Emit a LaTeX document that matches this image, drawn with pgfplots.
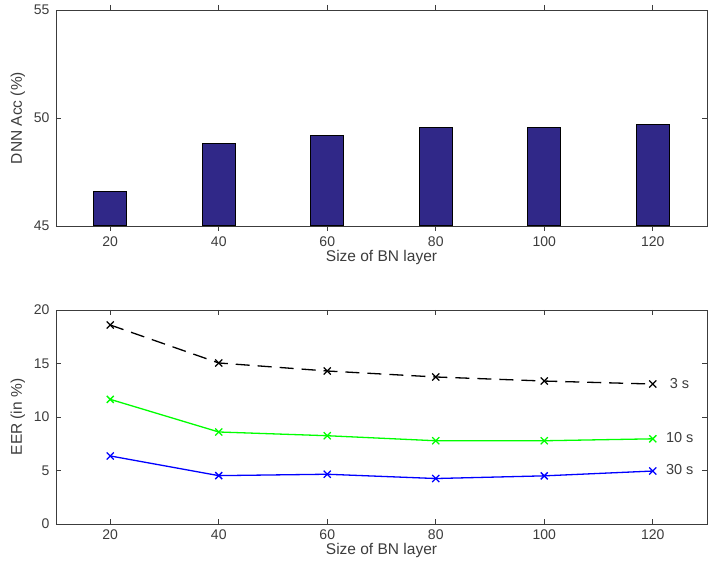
\documentclass[border=0pt]{standalone}
\usepackage{fontspec}
\setmainfont{Liberation Sans}
\usepackage{pgfplots}
\pgfplotsset{compat=1.18}
\definecolor{barblue}{RGB}{48,40,136}
\definecolor{axgray}{RGB}{60,60,60}
\pgfplotsset{
  common/.style={
    scale only axis,
    width=651pt,
    xmin=10, xmax=130,
    xtick={20,40,60,80,100,120},
    tick align=inside,
    major tick length=5pt,
    axis line style={axgray, line width=0.9pt},
    every tick/.style={axgray, line width=0.9pt},
    tick label style={font=\fontsize{14}{16}\selectfont, text=axgray},
    yticklabel style={xshift=-3pt},
    xticklabel style={yshift=-2pt},
    label style={font=\fontsize{15.5}{18}\selectfont, text=axgray},
    /pgf/number format/assume math mode=true,
    xlabel={Size of BN layer},
    xlabel style={yshift=3pt},
    ylabel style={yshift=2pt},
  }
}
\begin{document}
\begin{tikzpicture}
\useasboundingbox (-56pt,-40pt) rectangle (655pt,524pt);
\begin{axis}[common, at={(0pt,298pt)}, anchor=south west, height=216pt,
  ymin=45, ymax=55, ytick={45,50,55},
  ylabel={DNN Acc (\%)},
  ybar, bar width=33pt]
\addplot[fill=barblue, draw=black, line width=1pt] coordinates {
  (20,46.62) (40,48.80) (60,49.17) (80,49.54) (100,49.58) (120,49.68)};
\end{axis}
\begin{axis}[common, at={(0pt,0pt)}, anchor=south west, height=214pt,
  ymin=0, ymax=20, ytick={0,5,10,15,20},
  ylabel={EER (in \%)},
  clip=false]
\addplot[black, dashed, dash pattern=on 14pt off 8pt, line width=1.3pt, mark=x, mark size=5pt, mark options={solid}] coordinates {
  (20,18.6) (40,15.05) (60,14.3) (80,13.74) (100,13.36) (120,13.08)};
\addplot[green, line width=1.3pt, mark=x, mark size=5pt] coordinates {
  (20,11.65) (40,8.6) (60,8.25) (80,7.78) (100,7.78) (120,7.96)};
\addplot[blue, line width=1.3pt, mark=x, mark size=5pt] coordinates {
  (20,6.36) (40,4.52) (60,4.65) (80,4.25) (100,4.5) (120,4.95)};
\node[anchor=west, font=\fontsize{14.5}{16}\selectfont, text=axgray] at (axis cs:122.5,13.15) {3 s};
\node[anchor=west, font=\fontsize{14.5}{16}\selectfont, text=axgray] at (axis cs:121.8,8.1) {10 s};
\node[anchor=west, font=\fontsize{14.5}{16}\selectfont, text=axgray] at (axis cs:121.8,5.05) {30 s};
\end{axis}
\end{tikzpicture}
\end{document}
